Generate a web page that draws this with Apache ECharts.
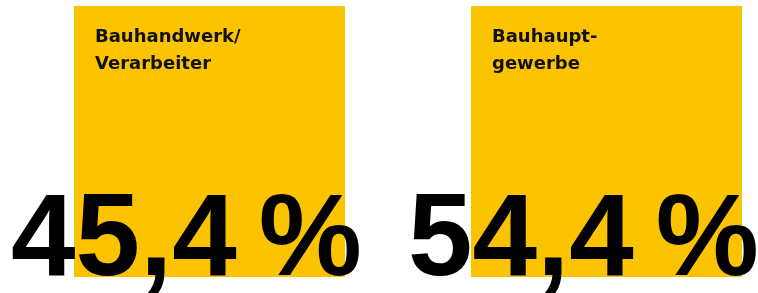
<!DOCTYPE html>
<html>
<head>
<meta charset="utf-8">
<script src="https://cdn.jsdelivr.net/npm/echarts@6/dist/echarts.min.js"></script>
<style>
  html, body { margin: 0; padding: 0; background: #fff; }
  #main { width: 758px; height: 293px; }
</style>
</head>
<body>
<div id="main"></div>
<script>
// Kategorien und Anteile
var categories = ['Bauhandwerk/\nVerarbeiter', 'Bauhaupt-\ngewerbe'];
var shares = [45.4, 54.4];
var boxValues = [1, 1]; // gleich große Felder

var chart = echarts.init(document.getElementById('main'));

function fmtShare(v) {
    return '{n|' + v.toFixed(1).replace('.', ',') + '}{p|%}';
}

var bigFont = {
    fontFamily: 'Liberation Sans',
    fontWeight: 'bold',
    fontSize: 116,
    lineHeight: 116,
    color: '#000'
};

var option = {
    animation: false,
    grid: { left: 209.5, right: 151.5, top: 6, bottom: 16 },
    xAxis: {
        type: 'category',
        data: categories,
        boundaryGap: false,
        show: false
    },
    yAxis: { type: 'value', min: 0, max: 1, show: false },
    series: [
        {
            // gelbe Felder mit Bezeichnung
            type: 'bar',
            clip: false,
            barWidth: 271,
            data: boxValues,
            itemStyle: { color: '#FCC400' },
            label: {
                show: true,
                position: [21, 18],
                align: 'left',
                verticalAlign: 'top',
                fontFamily: 'DejaVu Sans',
                fontWeight: 'bold',
                fontSize: 18,
                lineHeight: 27,
                color: '#111',
                formatter: function (p) { return categories[p.dataIndex]; }
            }
        },
        {
            // große Prozentzahl
            type: 'bar',
            clip: false,
            barWidth: 271,
            barGap: '-100%',
            data: boxValues,
            itemStyle: { color: 'rgba(0,0,0,0)' },
            z: 5,
            label: {
                show: true,
                position: [-63, 179],
                align: 'left',
                verticalAlign: 'top',
                formatter: function (p) { return fmtShare(shares[p.dataIndex]); },
                rich: {
                    n: bigFont,
                    p: Object.assign({}, bigFont, { padding: [0, 0, 0, 22] })
                }
            }
        }
    ]
};

chart.setOption(option);
window.addEventListener('resize', function () { chart.resize(); });
</script>
</body>
</html>
